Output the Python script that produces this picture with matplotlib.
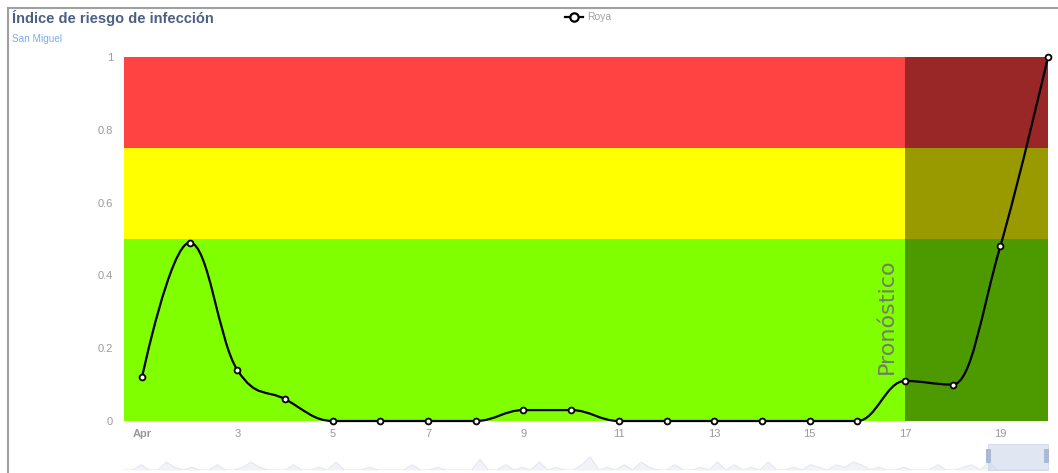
import matplotlib
matplotlib.use("Agg")
import matplotlib.pyplot as plt
from matplotlib.path import Path
from matplotlib.patches import PathPatch, Rectangle
from matplotlib.lines import Line2D

plt.rcParams["font.family"] = ["Liberation Sans", "DejaVu Sans"]

# ---- data ----
days = [1, 2, 3, 4, 5, 6, 7, 8, 9, 10, 11, 12, 13, 14, 15, 16, 17, 18, 19, 20]
roya = [0.12, 0.49, 0.14, 0.06, 0.0, 0.0, 0.0, 0.0, 0.03, 0.03,
        0.0, 0.0, 0.0, 0.0, 0.0, 0.0, 0.11, 0.10, 0.48, 1.0]
xtick_pos = [1, 3, 5, 7, 9, 11, 13, 15, 17, 19]
xtick_lab = ["Apr", "3", "5", "7", "9", "11", "13", "15", "17", "19"]
ytick_pos = [0, 0.2, 0.4, 0.6, 0.8, 1]
ytick_lab = ["0", "0.2", "0.4", "0.6", "0.8", "1"]
bands = [(0.0, 0.5, "#80ff00"), (0.5, 0.75, "#ffff00"), (0.75, 1.0, "#ff4242")]
forecast_start = 17
nav_vals = [0, 0, 2, 0, 0, 3, 1, 0, 1, 0, 0, 2, 0, 0, 1, 3, 1, 0, 0, 0,
            2, 0, 0, 1, 0, 3, 0, 0, 0, 1, 0, 0, 0, 0, 2, 0, 0, 1, 0, 0,
            0, 0, 4, 0, 0, 2, 0, 1, 0, 3, 0, 1, 0, 0, 2, 5, 0, 1, 0, 2,
            0, 3, 1, 0, 0, 2, 0, 0, 1, 0, 3, 0, 2, 0, 1, 0, 3, 0, 0, 1,
            0, 2, 1, 0, 2, 1, 3, 2, 0, 1, 0, 0, 1, 0, 0, 0, 2, 0, 0, 1,
            2, 0, 3, 0, 0, 0, 0, 0, 0, 0]


def hc_spline(xs, ys, smoothing=1.5):
    denom = smoothing + 1
    n = len(xs)
    rc = [None] * n
    verts = [(xs[0], ys[0])]
    codes = [Path.MOVETO]
    for i in range(1, n):
        px, py = xs[i], ys[i]
        lx, ly = xs[i - 1], ys[i - 1]
        lcx, lcy = px, py
        if i < n - 1:
            nx, ny = xs[i + 1], ys[i + 1]
            lcx = (smoothing * px + lx) / denom
            lcy = (smoothing * py + ly) / denom
            rcx = (smoothing * px + nx) / denom
            rcy = (smoothing * py + ny) / denom
            corr = 0.0
            if rcx != lcx:
                corr = (rcy - lcy) * (rcx - px) / (rcx - lcx) + py - rcy
            lcy += corr
            rcy += corr
            if lcy > ly and lcy > py:
                lcy = max(ly, py); rcy = 2 * py - lcy
            elif lcy < ly and lcy < py:
                lcy = min(ly, py); rcy = 2 * py - lcy
            if rcy > ny and rcy > py:
                rcy = max(ny, py); lcy = 2 * py - rcy
            elif rcy < ny and rcy < py:
                rcy = min(ny, py); lcy = 2 * py - rcy
            rc[i] = (rcx, rcy)
        p1 = rc[i - 1] if rc[i - 1] is not None else (lx, ly)
        verts += [p1, (lcx, lcy), (px, py)]
        codes += [Path.CURVE4] * 3
    return Path(verts, codes)


W, H = 1058, 473
fig = plt.figure(figsize=(W / 100, H / 100), dpi=100)
fig.patch.set_facecolor("white")

# outer border
fig.add_artist(Line2D([8 / W, 1.0], [1 - 8.5 / H, 1 - 8.5 / H], transform=fig.transFigure,
                      color="#a0a0a0", lw=1.5))
fig.add_artist(Line2D([8 / W, 8 / W], [0, 1 - 8.5 / H], transform=fig.transFigure,
                      color="#a0a0a0", lw=1.5))

ax = fig.add_axes([124 / W, 1 - 421 / H, (1048 - 124) / W, (421 - 57) / H])
ax.set_xlim(0.6225, 20)
ax.set_ylim(0, 1)
for lo, hi, c in bands:
    ax.axhspan(lo, hi, color=c, lw=0, zorder=0)
ax.axvspan(forecast_start, 20, color="black", alpha=0.4, lw=0, zorder=1)

path = hc_spline(days, roya)
ax.add_patch(PathPatch(path, facecolor="none", edgecolor="black", lw=1.6, zorder=3,
                       clip_on=False))
ax.plot(days, roya, ls="none", marker="o", ms=4.2, mfc="white", mec="black",
        mew=1.3, zorder=4, clip_on=False)

ax.text(forecast_start - 0.17, 0.13, "Pronóstico", rotation=90, ha="right", va="bottom",
        fontsize=16, color="#707070", alpha=0.9, zorder=5, family="DejaVu Sans")

ax.set_xticks(xtick_pos)
ax.set_xticklabels(xtick_lab)
ax.set_yticks(ytick_pos)
ax.set_yticklabels(ytick_lab)
ax.tick_params(axis="both", length=0, labelsize=8, labelcolor="#999999")
ax.tick_params(axis="x", pad=6)
ax.tick_params(axis="y", pad=8)
ax.get_xticklabels()[0].set_fontweight("bold")
for s in ax.spines.values():
    s.set_visible(False)

# titles
fig.text(12 / W, 1 - 18 / H, "Índice de riesgo de infección", fontsize=10.5, fontweight="bold",
         color="#4d6082", ha="left", va="center")
fig.text(12 / W, 1 - 39 / H, "San Miguel", fontsize=7.2, color="#7aaee8", ha="left", va="center")

# legend
fig.add_artist(Line2D([565 / W, 583 / W], [1 - 17 / H, 1 - 17 / H], transform=fig.transFigure,
                      color="black", lw=1.6))
fig.add_artist(Line2D([574 / W], [1 - 17 / H], transform=fig.transFigure, marker="o", ms=6,
                      mfc="white", mec="black", mew=1.6, ls="none"))
fig.text(587 / W, 1 - 17 / H, "Roya", fontsize=7.5, color="#a0a0a0", ha="left", va="center")

# navigator
nav = fig.add_axes([124 / W, 1 - 470 / H, (1048 - 124) / W, (470 - 449) / H])
nx = list(range(len(nav_vals)))
nav.fill_between(nx, nav_vals, 0, color="#f1f3f9", lw=0)
nav.plot(nx, nav_vals, color="#e2e7f1", lw=0.8)
nav.set_xlim(0, len(nav_vals) - 1)
nav.set_ylim(0, 8)
nav.axis("off")
fig.add_artist(Rectangle((988 / W, 1 - 470 / H), 60 / W, 26 / H, transform=fig.transFigure,
                         facecolor="#c8d2e8", alpha=0.55, edgecolor="#b8c4dc", lw=0.6))
for hx in (986, 1044):
    fig.add_artist(Rectangle((hx / W, 1 - 463 / H), 5 / W, 14 / H, transform=fig.transFigure,
                             facecolor="#a9b9d6", edgecolor="none"))

fig.savefig("out.png", dpi=100, facecolor="white")
